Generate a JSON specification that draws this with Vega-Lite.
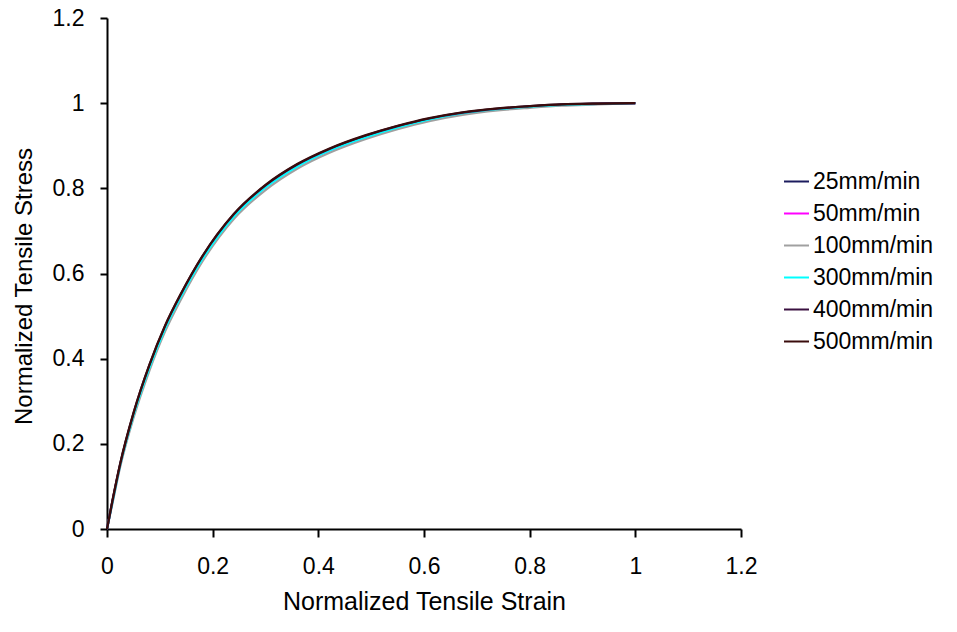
{
  "$schema": "https://vega.github.io/schema/vega-lite/v6.json",
  "autosize": "none",
  "width": 634,
  "height": 511,
  "padding": {"left": 107, "top": 18, "right": 216, "bottom": 103},
  "background": "white",
  "config": {
    "view": {"stroke": null},
    "font": "Liberation Sans",
    "axis": {
      "grid": false,
      "domainColor": "black",
      "domainWidth": 2,
      "tickColor": "black",
      "tickWidth": 2,
      "labelFlush": false,
      "labelFont": "Liberation Sans",
      "labelFontSize": 23,
      "labelColor": "black",
      "titleFont": "Liberation Sans",
      "titleFontSize": 25,
      "titleFontWeight": "normal",
      "titleColor": "black"
    },
    "legend": {
      "labelFont": "Liberation Sans",
      "labelFontSize": 23,
      "labelColor": "black"
    }
  },
  "data": {
    "values": [
      {"strain": 0, "25mm/min": 0, "50mm/min": 0, "100mm/min": 0, "300mm/min": 0, "400mm/min": 0, "500mm/min": 0},
      {"strain": 0.01, "25mm/min": 0.063, "50mm/min": 0.062, "100mm/min": 0.058, "300mm/min": 0.061, "400mm/min": 0.064, "500mm/min": 0.065},
      {"strain": 0.025, "25mm/min": 0.151, "50mm/min": 0.150, "100mm/min": 0.146, "300mm/min": 0.150, "400mm/min": 0.153, "500mm/min": 0.154},
      {"strain": 0.05, "25mm/min": 0.268, "50mm/min": 0.267, "100mm/min": 0.260, "300mm/min": 0.266, "400mm/min": 0.271, "500mm/min": 0.272},
      {"strain": 0.08, "25mm/min": 0.381, "50mm/min": 0.380, "100mm/min": 0.371, "300mm/min": 0.378, "400mm/min": 0.384, "500mm/min": 0.385},
      {"strain": 0.11, "25mm/min": 0.474, "50mm/min": 0.473, "100mm/min": 0.464, "300mm/min": 0.471, "400mm/min": 0.477, "500mm/min": 0.478},
      {"strain": 0.14, "25mm/min": 0.549, "50mm/min": 0.548, "100mm/min": 0.539, "300mm/min": 0.546, "400mm/min": 0.552, "500mm/min": 0.553},
      {"strain": 0.18, "25mm/min": 0.636, "50mm/min": 0.635, "100mm/min": 0.627, "300mm/min": 0.633, "400mm/min": 0.639, "500mm/min": 0.640},
      {"strain": 0.24, "25mm/min": 0.736, "50mm/min": 0.735, "100mm/min": 0.728, "300mm/min": 0.734, "400mm/min": 0.739, "500mm/min": 0.740},
      {"strain": 0.30, "25mm/min": 0.804, "50mm/min": 0.803, "100mm/min": 0.796, "300mm/min": 0.802, "400mm/min": 0.807, "500mm/min": 0.808},
      {"strain": 0.36, "25mm/min": 0.853, "50mm/min": 0.852, "100mm/min": 0.846, "300mm/min": 0.851, "400mm/min": 0.856, "500mm/min": 0.857},
      {"strain": 0.42, "25mm/min": 0.889, "50mm/min": 0.888, "100mm/min": 0.883, "300mm/min": 0.888, "400mm/min": 0.892, "500mm/min": 0.893},
      {"strain": 0.49, "25mm/min": 0.921, "50mm/min": 0.920, "100mm/min": 0.916, "300mm/min": 0.920, "400mm/min": 0.924, "500mm/min": 0.925},
      {"strain": 0.55, "25mm/min": 0.944, "50mm/min": 0.943, "100mm/min": 0.939, "300mm/min": 0.943, "400mm/min": 0.946, "500mm/min": 0.947},
      {"strain": 0.61, "25mm/min": 0.962, "50mm/min": 0.961, "100mm/min": 0.958, "300mm/min": 0.962, "400mm/min": 0.964, "500mm/min": 0.965},
      {"strain": 0.67, "25mm/min": 0.976, "50mm/min": 0.975, "100mm/min": 0.972, "300mm/min": 0.976, "400mm/min": 0.977, "500mm/min": 0.978},
      {"strain": 0.74, "25mm/min": 0.986, "50mm/min": 0.986, "100mm/min": 0.983, "300mm/min": 0.986, "400mm/min": 0.987, "500mm/min": 0.988},
      {"strain": 0.80, "25mm/min": 0.992, "50mm/min": 0.991, "100mm/min": 0.989, "300mm/min": 0.992, "400mm/min": 0.993, "500mm/min": 0.993},
      {"strain": 0.86, "25mm/min": 0.996, "50mm/min": 0.996, "100mm/min": 0.994, "300mm/min": 0.996, "400mm/min": 0.997, "500mm/min": 0.997},
      {"strain": 0.93, "25mm/min": 0.999, "50mm/min": 0.998, "100mm/min": 0.997, "300mm/min": 0.998, "400mm/min": 0.999, "500mm/min": 0.999},
      {"strain": 1.0, "25mm/min": 1, "50mm/min": 1, "100mm/min": 1, "300mm/min": 1, "400mm/min": 1, "500mm/min": 1}
    ]
  },
  "transform": [
    {"fold": ["25mm/min", "50mm/min", "100mm/min", "300mm/min", "400mm/min", "500mm/min"], "as": ["speed", "stress"]}
  ],
  "mark": {"type": "line", "strokeWidth": 2.2, "interpolate": "monotone"},
  "encoding": {
    "x": {
      "field": "strain",
      "type": "quantitative",
      "scale": {"domain": [0, 1.2], "nice": false, "zero": true},
      "axis": {
        "title": "Normalized Tensile Strain",
        "values": [0, 0.2, 0.4, 0.6, 0.8, 1, 1.2],
        "format": "~g",
        "tickSize": 8,
        "labelPadding": 18,
        "titlePadding": 11
      }
    },
    "y": {
      "field": "stress",
      "type": "quantitative",
      "scale": {"domain": [0, 1.2], "nice": false},
      "axis": {
        "title": "Normalized Tensile Stress",
        "titleFontSize": 24,
        "titleY": 268,
        "values": [0, 0.2, 0.4, 0.6, 0.8, 1, 1.2],
        "format": "~g",
        "tickSize": 7,
        "labelPadding": 16,
        "titlePadding": 16
      }
    },
    "color": {
      "field": "speed",
      "type": "nominal",
      "scale": {
        "domain": ["25mm/min", "50mm/min", "100mm/min", "300mm/min", "400mm/min", "500mm/min"],
        "range": ["#1c1c5e", "#ff00ff", "#a0a0a0", "#00ffff", "#3a1040", "#3a0c0c"]
      },
      "legend": {
        "title": null,
        "orient": "none",
        "legendX": 676,
        "legendY": 150,
        "padding": 0,
        "symbolType": "stroke",
        "symbolSize": 625,
        "symbolStrokeWidth": 2,
        "labelOffset": 3,
        "rowPadding": 6
      }
    }
  }
}
